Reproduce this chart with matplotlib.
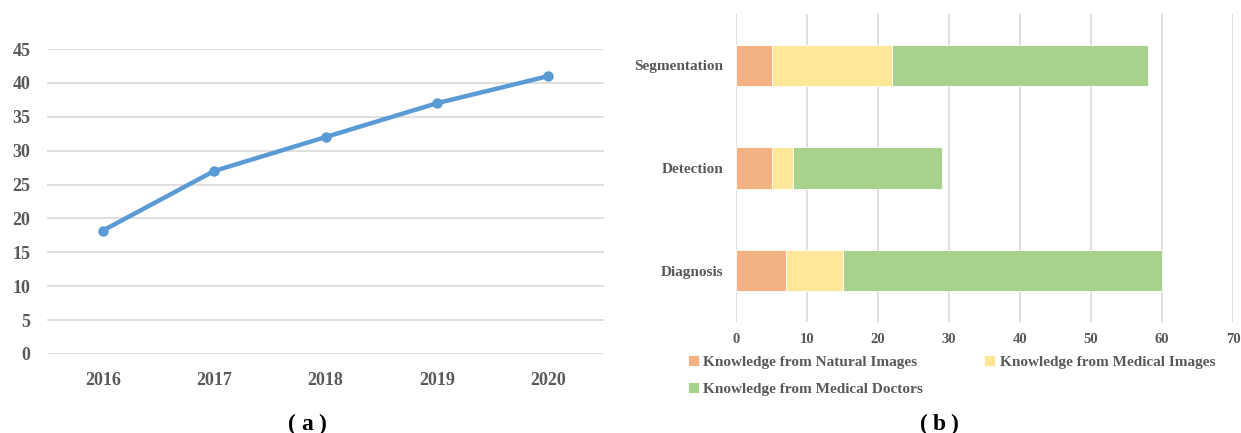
import matplotlib
matplotlib.use("Agg")
import matplotlib.pyplot as plt
import numpy as np

years = ["2016", "2017", "2018", "2019", "2020"]
counts = [18.2, 27, 32, 37, 41]

tasks = ["Diagnosis", "Detection", "Segmentation"]
natural = [7, 5, 5]
medical_images = [8, 3, 17]
doctors = [45, 21, 36]
series_names = ["Knowledge from Natural Images", "Knowledge from Medical Images",
                "Knowledge from Medical Doctors"]

TXT = "#595959"
GRID = "#D9D9D9"
serif = ["Liberation Serif", "DejaVu Serif"]
plt.rcParams['font.family'] = serif
plt.rcParams['font.weight'] = 'bold'

W, H = 1241, 433
fig = plt.figure(figsize=(W / 100, H / 100), dpi=100)

def box(l, r, t, b):
    return [l / W, 1 - b / H, (r - l) / W, (b - t) / H]

# ---- (a) line chart
ax1 = fig.add_axes(box(47, 604, 49, 354))
x = np.arange(len(years))
ax1.plot(x, counts, color="#5B9BD5", lw=3.2, marker="o", ms=6.5, solid_capstyle="round")
ax1.set_xlim(-0.5, len(years) - 0.5)
ax1.set_ylim(0, 45)
ax1.set_yticks(np.arange(0, 46, 5))
ax1.set_xticks(x)
ax1.set_xticklabels(years)
ax1.grid(axis="y", color=GRID, lw=1.2)
ax1.set_axisbelow(True)
for s in ax1.spines.values():
    s.set_visible(False)
ax1.tick_params(axis="both", length=0, colors=TXT, labelsize=13)
ax1.tick_params(axis="x", pad=13)
ax1.tick_params(axis="y", pad=12)
for lab in ax1.get_xticklabels() + ax1.get_yticklabels():
    lab.set_fontweight("bold")

# ---- (b) stacked bars
ax2 = fig.add_axes(box(736, 1233, 14, 322))
y = np.arange(len(tasks))
cols = ["#F4B183", "#FFE699", "#A9D18E"]
left = np.zeros(len(tasks))
handles = []
for vals, c, name in zip([natural, medical_images, doctors], cols, series_names):
    b = ax2.barh(y, vals, left=left, height=0.4, color=c, edgecolor="white", lw=0.6, label=name)
    handles.append(b)
    left = left + np.array(vals)
ax2.set_xlim(0, 70)
ax2.set_ylim(-0.5, len(tasks) - 0.5)
ax2.set_xticks(np.arange(0, 71, 10))
ax2.set_yticks(y)
ax2.set_yticklabels(tasks)
ax2.grid(axis="x", color=GRID, lw=1.2)
ax2.set_axisbelow(True)
for s in ax2.spines.values():
    s.set_visible(False)
ax2.tick_params(axis="both", length=0, colors=TXT)
ax2.tick_params(axis="x", labelsize=10.5, pad=8)
ax2.tick_params(axis="y", labelsize=11, pad=9)
for lab in ax2.get_xticklabels() + ax2.get_yticklabels():
    lab.set_fontweight("bold")

order = [0, 2, 1]
leg = fig.legend([handles[i] for i in order], [series_names[i] for i in order],
                 ncol=2, loc="upper left", bbox_to_anchor=(688 / W, 1 - 355 / H),
                 frameon=False, handlelength=0.7, handleheight=0.7, handletextpad=0.3,
                 columnspacing=4.0, labelspacing=0.9, borderaxespad=0, borderpad=0,
                 prop={"family": serif, "weight": "bold", "size": 11})
for t in leg.get_texts():
    t.set_color(TXT)

def caption(cx, letter):
    yy = 1 - 424 / H
    fig.text((cx - 15) / W, yy, "(", ha="center", va="center", fontsize=17,
             fontweight="bold", color="black")
    fig.text(cx / W, yy, letter, ha="center", va="center", fontsize=17,
             fontweight="bold", color="black")
    fig.text((cx + 15) / W, yy, ")", ha="center", va="center", fontsize=17,
             fontweight="bold", color="black")

caption(307, "a")
caption(939, "b")

fig.savefig("out.png", dpi=100)
